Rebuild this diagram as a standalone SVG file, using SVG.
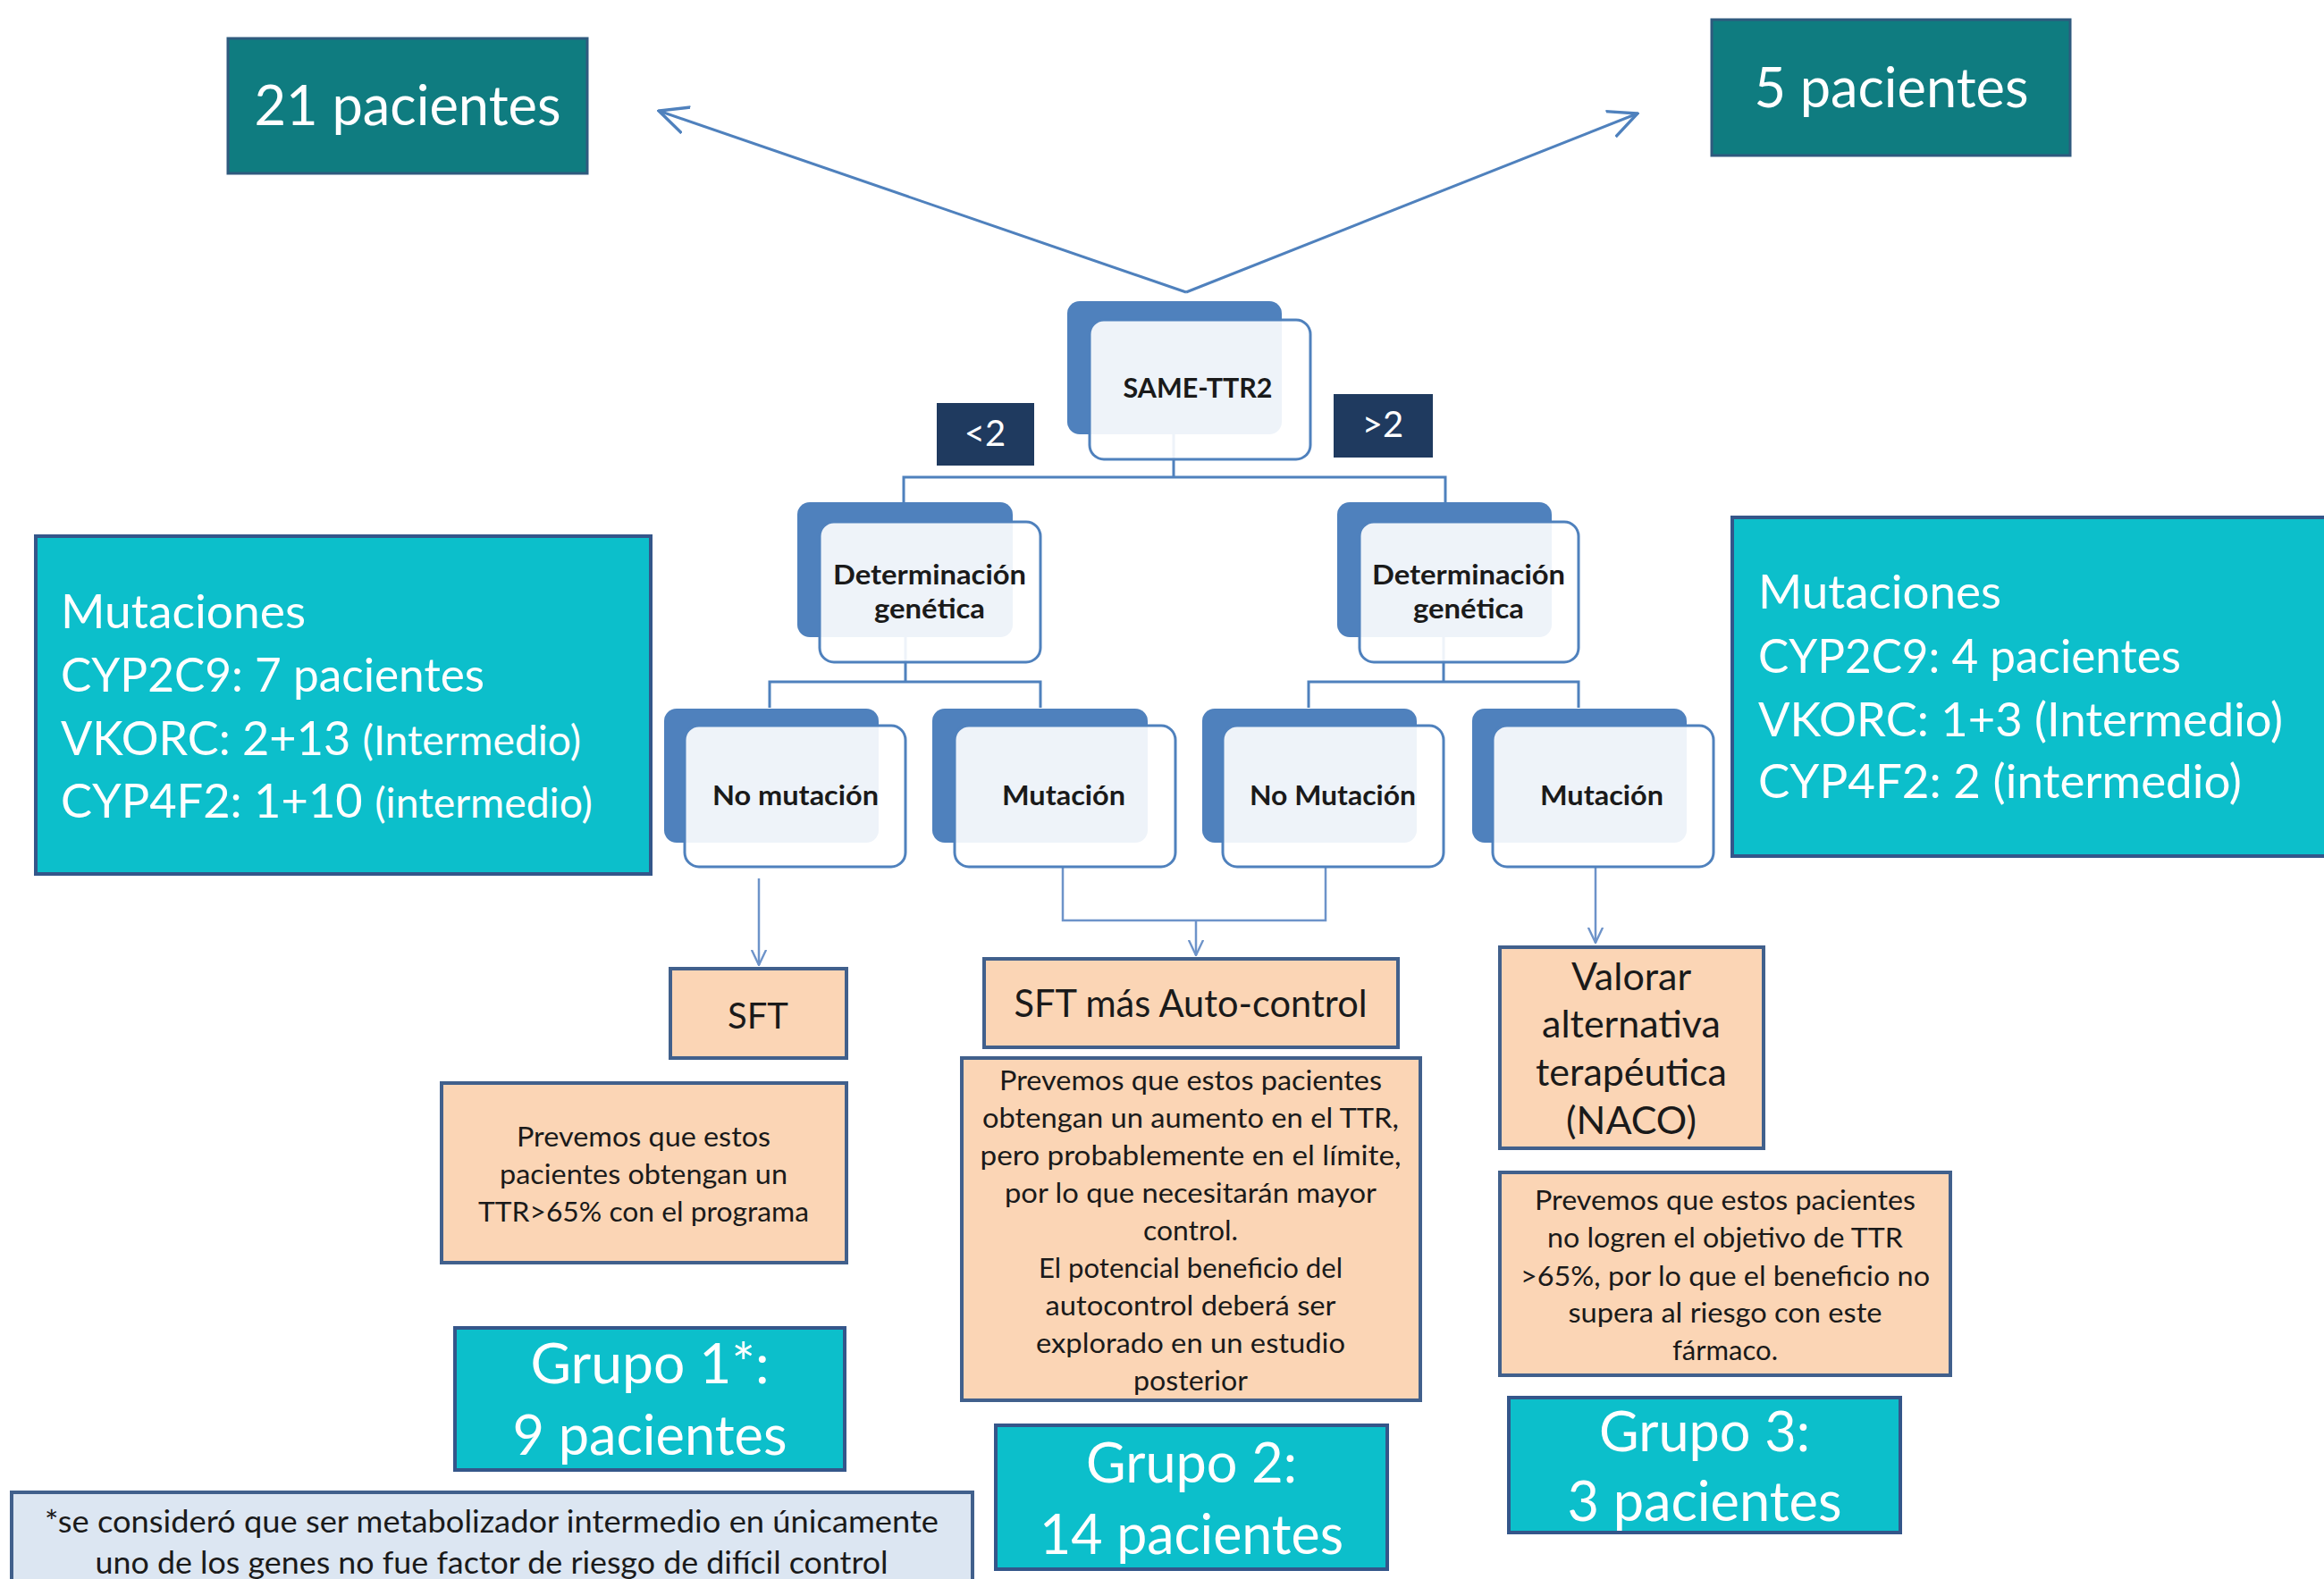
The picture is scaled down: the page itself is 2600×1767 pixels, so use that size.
<svg xmlns="http://www.w3.org/2000/svg" width="2600" height="1767" viewBox="0 0 2600 1767">
<defs>
<style>
.bg{fill:#ffffff}
.teal{fill:#0f7c80;stroke:#2f5a7e;stroke-width:3}
.turq{fill:#0cbfcb;stroke:#34568a;stroke-width:4}
.peach{fill:#fbd5b5;stroke:#41608c;stroke-width:4}
.note{fill:#dce6f2;stroke:#41608c;stroke-width:4}
.navy{fill:#1f3a5f}
.back{fill:#4f81bd}
.front{fill:#ffffff;fill-opacity:0.9;stroke:#4f81bd;stroke-width:3}
.conn{fill:none;stroke:#4f81bd;stroke-width:3}
.thin{fill:none;stroke:#6d93c9;stroke-width:2.5}
.wt{font-family:Lato,"Open Sans",sans-serif;fill:#ffffff}
.bk{font-family:Lato,"Open Sans",sans-serif;fill:#1a1a1a}
.bold{font-weight:bold}
.mid{text-anchor:middle}
</style>
<marker id="bigArrow" markerUnits="userSpaceOnUse" markerWidth="34" markerHeight="34" viewBox="0 0 10 10" refX="9.5" refY="5" orient="auto">
<path d="M0,0.5 L9.5,5 L0,9.5" fill="none" stroke="#4f81bd" stroke-width="1"/>
</marker>
<marker id="smallArrow" markerUnits="userSpaceOnUse" markerWidth="18" markerHeight="18" viewBox="0 0 10 10" refX="9.5" refY="5" orient="auto">
<path d="M0,0.5 L9.5,5 L0,9.5" fill="none" stroke="#6d93c9" stroke-width="1.3"/>
</marker>
</defs>
<rect class="bg" x="0" y="0" width="2600" height="1767"/>

<g id="connectors">
<line class="conn" x1="1327" y1="327" x2="737" y2="124" marker-end="url(#bigArrow)"/>
<line class="conn" x1="1327" y1="327" x2="1832" y2="127" marker-end="url(#bigArrow)"/>
<path class="conn" d="M1313,486 V534 M1011,563 V534 H1617 V563"/>
<path class="conn" d="M1013,713 V763 M861,792 V763 H1164 V792"/>
<path class="conn" d="M1615,713 V763 M1464,792 V763 H1766 V792"/>
<line class="thin" x1="849" y1="983" x2="849" y2="1080" marker-end="url(#smallArrow)"/>
<path class="thin" d="M1189,970 V1030 H1483 V970"/>
<line class="thin" x1="1338" y1="1030" x2="1338" y2="1069" marker-end="url(#smallArrow)"/>
<line class="thin" x1="1785" y1="970" x2="1785" y2="1055" marker-end="url(#smallArrow)"/>
</g>

<g id="n21">
<rect class="teal" x="255" y="43" width="402" height="151"/>
<text class="wt mid" x="456" y="140" font-size="62" textLength="343" lengthAdjust="spacingAndGlyphs">21 pacientes</text>
</g>
<g id="n5">
<rect class="teal" x="1915" y="22" width="401" height="152"/>
<text class="wt mid" x="2116" y="120" font-size="62" textLength="307" lengthAdjust="spacingAndGlyphs">5 pacientes</text>
</g>

<g id="same">
<rect class="back" x="1194" y="337" width="240" height="149" rx="14"/>
<rect class="front" x="1219" y="358" width="247" height="156" rx="16"/>
<text class="bk bold mid" x="1340" y="445" font-size="31" textLength="167" lengthAdjust="spacingAndGlyphs">SAME-TTR2</text>
</g>
<g id="lt2">
<rect class="navy" x="1048" y="451" width="109" height="70"/>
<text class="wt mid" x="1102" y="499" font-size="40">&lt;2</text>
</g>
<g id="gt2">
<rect class="navy" x="1492" y="441" width="111" height="71"/>
<text class="wt mid" x="1547" y="489" font-size="40">&gt;2</text>
</g>

<g id="detL">
<rect class="back" x="892" y="562" width="241" height="151" rx="14"/>
<rect class="front" x="917" y="584" width="247" height="157" rx="16"/>
<text class="bk bold mid" x="1040" y="654" font-size="31" textLength="216" lengthAdjust="spacingAndGlyphs">Determinación</text>
<text class="bk bold mid" x="1040" y="692" font-size="31" textLength="124" lengthAdjust="spacingAndGlyphs">genética</text>
</g>
<g id="detR">
<rect class="back" x="1496" y="562" width="240" height="151" rx="14"/>
<rect class="front" x="1521" y="584" width="245" height="157" rx="16"/>
<text class="bk bold mid" x="1643" y="654" font-size="31" textLength="216" lengthAdjust="spacingAndGlyphs">Determinación</text>
<text class="bk bold mid" x="1643" y="692" font-size="31" textLength="124" lengthAdjust="spacingAndGlyphs">genética</text>
</g>

<g id="noMutL">
<rect class="back" x="743" y="793" width="240" height="150" rx="14"/>
<rect class="front" x="766" y="812" width="247" height="158" rx="16"/>
<text class="bk bold mid" x="890" y="901" font-size="31" textLength="186" lengthAdjust="spacingAndGlyphs">No mutación</text>
</g>
<g id="mutL">
<rect class="back" x="1043" y="793" width="241" height="150" rx="14"/>
<rect class="front" x="1068" y="812" width="247" height="158" rx="16"/>
<text class="bk bold mid" x="1190" y="901" font-size="31" textLength="138" lengthAdjust="spacingAndGlyphs">Mutación</text>
</g>
<g id="noMutR">
<rect class="back" x="1345" y="793" width="240" height="150" rx="14"/>
<rect class="front" x="1368" y="812" width="247" height="158" rx="16"/>
<text class="bk bold mid" x="1491" y="901" font-size="31" textLength="186" lengthAdjust="spacingAndGlyphs">No Mutación</text>
</g>
<g id="mutR">
<rect class="back" x="1647" y="793" width="240" height="150" rx="14"/>
<rect class="front" x="1670" y="812" width="247" height="158" rx="16"/>
<text class="bk bold mid" x="1792" y="901" font-size="31" textLength="138" lengthAdjust="spacingAndGlyphs">Mutación</text>
</g>

<g id="mutacionesL">
<rect class="turq" x="40" y="600" width="688" height="378"/>
<text class="wt" x="68" y="703" font-size="52" textLength="274" lengthAdjust="spacingAndGlyphs">Mutaciones</text>
<text class="wt" x="68" y="774" font-size="52" textLength="474" lengthAdjust="spacingAndGlyphs">CYP2C9: 7 pacientes</text>
<text class="wt" x="68" y="845" font-size="52" textLength="582" lengthAdjust="spacingAndGlyphs">VKORC: 2+13 <tspan font-size="46">(Intermedio)</tspan></text>
<text class="wt" x="68" y="915" font-size="52" textLength="595" lengthAdjust="spacingAndGlyphs">CYP4F2: 1+10 <tspan font-size="46">(intermedio)</tspan></text>
</g>
<g id="mutacionesR">
<rect class="turq" x="1938" y="579" width="670" height="379"/>
<text class="wt" x="1967" y="681" font-size="52" textLength="272" lengthAdjust="spacingAndGlyphs">Mutaciones</text>
<text class="wt" x="1967" y="753" font-size="52" textLength="473" lengthAdjust="spacingAndGlyphs">CYP2C9: 4 pacientes</text>
<text class="wt" x="1967" y="824" font-size="52" textLength="587" lengthAdjust="spacingAndGlyphs">VKORC: 1+3 (Intermedio)</text>
<text class="wt" x="1967" y="893" font-size="52" textLength="541" lengthAdjust="spacingAndGlyphs">CYP4F2: 2 (intermedio)</text>
</g>

<g id="sft">
<rect class="peach" x="750" y="1084" width="197" height="100"/>
<text class="bk mid" x="848" y="1151" font-size="40">SFT</text>
</g>
<g id="sftText">
<rect class="peach" x="494" y="1212" width="453" height="201"/>
<text class="bk mid" x="720" y="1283" font-size="31" textLength="284" lengthAdjust="spacingAndGlyphs">Prevemos que estos</text>
<text class="bk mid" x="720" y="1325" font-size="31" textLength="322" lengthAdjust="spacingAndGlyphs">pacientes obtengan un</text>
<text class="bk mid" x="720" y="1367" font-size="31" textLength="370" lengthAdjust="spacingAndGlyphs">TTR&gt;65% con el programa</text>
</g>

<g id="sftAuto">
<rect class="peach" x="1101" y="1073" width="463" height="99"/>
<text class="bk mid" x="1332" y="1138" font-size="42" textLength="395" lengthAdjust="spacingAndGlyphs">SFT más Auto-control</text>
</g>
<g id="sftAutoText">
<rect class="peach" x="1076" y="1184" width="513" height="383"/>
<text class="bk mid" x="1332" y="1220" font-size="31" textLength="428" lengthAdjust="spacingAndGlyphs">Prevemos que estos pacientes</text>
<text class="bk mid" x="1332" y="1262" font-size="31" textLength="466" lengthAdjust="spacingAndGlyphs">obtengan un aumento en el TTR,</text>
<text class="bk mid" x="1332" y="1304" font-size="31" textLength="471" lengthAdjust="spacingAndGlyphs">pero probablemente en el límite,</text>
<text class="bk mid" x="1332" y="1346" font-size="31" textLength="416" lengthAdjust="spacingAndGlyphs">por lo que necesitarán mayor</text>
<text class="bk mid" x="1332" y="1388" font-size="31" textLength="106" lengthAdjust="spacingAndGlyphs">control.</text>
<text class="bk mid" x="1332" y="1430" font-size="31" textLength="340" lengthAdjust="spacingAndGlyphs">El potencial beneficio del</text>
<text class="bk mid" x="1332" y="1472" font-size="31" textLength="325" lengthAdjust="spacingAndGlyphs">autocontrol deberá ser</text>
<text class="bk mid" x="1332" y="1514" font-size="31" textLength="346" lengthAdjust="spacingAndGlyphs">explorado en un estudio</text>
<text class="bk mid" x="1332" y="1556" font-size="31" textLength="128" lengthAdjust="spacingAndGlyphs">posterior</text>
</g>

<g id="valorar">
<rect class="peach" x="1678" y="1060" width="295" height="225"/>
<text class="bk mid" x="1825" y="1108" font-size="43">Valorar</text>
<text class="bk mid" x="1825" y="1161" font-size="43">alternativa</text>
<text class="bk mid" x="1825" y="1215" font-size="43">terapéutica</text>
<text class="bk mid" x="1825" y="1269" font-size="43">(NACO)</text>
</g>
<g id="valorarText">
<rect class="peach" x="1678" y="1312" width="504" height="227"/>
<text class="bk mid" x="1930" y="1354" font-size="31" textLength="426" lengthAdjust="spacingAndGlyphs">Prevemos que estos pacientes</text>
<text class="bk mid" x="1930" y="1396" font-size="31" textLength="398" lengthAdjust="spacingAndGlyphs">no logren el objetivo de TTR</text>
<text class="bk mid" x="1930" y="1439" font-size="31" textLength="458" lengthAdjust="spacingAndGlyphs">&gt;65%, por lo que el beneficio no</text>
<text class="bk mid" x="1930" y="1480" font-size="31" textLength="351" lengthAdjust="spacingAndGlyphs">supera al riesgo con este</text>
<text class="bk mid" x="1930" y="1522" font-size="31" textLength="118" lengthAdjust="spacingAndGlyphs">fármaco.</text>
</g>

<g id="grupo1">
<rect class="turq" x="509" y="1486" width="436" height="159"/>
<text class="wt mid" x="727" y="1548" font-size="62" textLength="267" lengthAdjust="spacingAndGlyphs">Grupo 1*:</text>
<text class="wt mid" x="727" y="1628" font-size="62" textLength="307" lengthAdjust="spacingAndGlyphs">9 pacientes</text>
</g>
<g id="grupo2">
<rect class="turq" x="1114" y="1595" width="438" height="161"/>
<text class="wt mid" x="1333" y="1659" font-size="62" textLength="236" lengthAdjust="spacingAndGlyphs">Grupo 2:</text>
<text class="wt mid" x="1333" y="1739" font-size="62" textLength="340" lengthAdjust="spacingAndGlyphs">14 pacientes</text>
</g>
<g id="grupo3">
<rect class="turq" x="1688" y="1564" width="438" height="151"/>
<text class="wt mid" x="1907" y="1624" font-size="62" textLength="236" lengthAdjust="spacingAndGlyphs">Grupo 3:</text>
<text class="wt mid" x="1907" y="1702" font-size="62" textLength="307" lengthAdjust="spacingAndGlyphs">3 pacientes</text>
</g>

<g id="footnote">
<rect class="note" x="13" y="1670" width="1075" height="110"/>
<text class="bk mid" x="550" y="1715" font-size="34" textLength="1000" lengthAdjust="spacingAndGlyphs">*se consideró que ser metabolizador intermedio en únicamente</text>
<text class="bk mid" x="550" y="1761" font-size="34" textLength="887" lengthAdjust="spacingAndGlyphs">uno de los genes no fue factor de riesgo de difícil control</text>
</g>
</svg>
